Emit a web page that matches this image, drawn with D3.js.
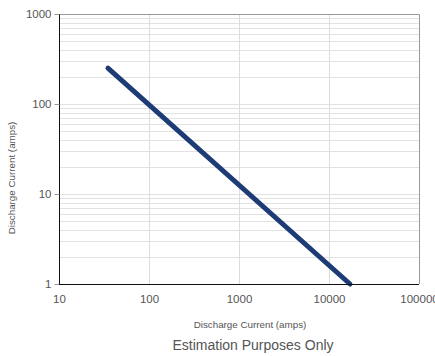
<!DOCTYPE html>
<html lang="en">
<head>
  <meta charset="UTF-8">
  <title>Discharge</title>
  <style>
    body { margin: 0; background: #fff; }
    text { font-family: 'Liberation Sans', Arial, sans-serif; fill: #555; }
  </style>
</head>
<body>
  <svg id="svg" width="435" height="356"></svg>
  <script src="https://d3js.org/d3.v7.min.js"></script>
  <script>
    // line end points
    const currentX = [35, 17100]
    const currentY = [250, 1]
    const xTicks = [10, 100, 1000, 10000, 100000]
    const yTicks = [1, 10, 100, 1000]
    const xTitle = 'Discharge Current (amps)'
    const yTitle = 'Discharge Current (amps)'
    const note = 'Estimation Purposes Only'

    const mLeft = 59, mRight = 419, mTop = 14, mBottom = 284
    const svg = d3.select('#svg')

    const xScale = d3.scaleLog().domain([10, 100000]).range([mLeft, mRight])
    const yScale = d3.scaleLog().domain([1, 1000]).range([mBottom, mTop])

    // horizontal minor grid
    const minor = []
    for (let d = 1; d < 1000; d *= 10) {
      for (let k = 2; k <= 9; k++) minor.push(d * k)
    }
    svg.append('g')
      .selectAll('line')
      .data(minor.concat([10, 100]))
      .enter()
      .append('line')
      .attr('x1', mLeft).attr('x2', mRight)
      .attr('y1', d => Math.round(yScale(d)) + 0.5)
      .attr('y2', d => Math.round(yScale(d)) + 0.5)
      .attr('stroke', '#e2e2e2')

    // vertical decade grid
    svg.append('g')
      .selectAll('line')
      .data([100, 1000, 10000])
      .enter()
      .append('line')
      .attr('x1', d => Math.round(xScale(d)) + 0.5)
      .attr('x2', d => Math.round(xScale(d)) + 0.5)
      .attr('y1', mTop).attr('y2', mBottom)
      .attr('stroke', '#dcdcdc')

    // top/right border
    svg.append('path')
      .attr('d', `M${mLeft},${mTop + 0.5}H${mRight + 0.5}V${mBottom}`)
      .attr('fill', 'none')
      .attr('stroke', '#999')

    const line = d3.line()
      .x(d => xScale(d[0]))
      .y(d => yScale(d[1]))
    svg.append('path')
      .datum(d3.zip(currentX, currentY))
      .attr('d', line)
      .attr('fill', 'none')
      .attr('stroke', '#1d3b74')
      .attr('stroke-width', 5)
      .attr('stroke-linecap', 'round')

    // axes
    const leftAxis = d3.axisLeft(yScale).tickValues(yTicks).tickFormat(d3.format('d')).tickSize(5).tickPadding(3)
    const ya = svg.append('g')
      .attr('transform', `translate(${mLeft + 0.5}, 0)`)
      .call(leftAxis)
    ya.select('.domain').attr('stroke', '#111').attr('d', `M0,${mTop}V${mBottom}`)
    ya.selectAll('.tick line').attr('stroke', '#999')
    ya.selectAll('.tick text').style('font-size', '11.5px').style('fill', '#555')

    const bottomAxis = d3.axisBottom(xScale).tickValues(xTicks).tickFormat(d3.format('d')).tickSize(0).tickPadding(10)
    const xa = svg.append('g')
      .attr('transform', `translate(0, ${mBottom + 0.5})`)
      .call(bottomAxis)
    xa.select('.domain').attr('stroke', '#111').attr('d', `M${mLeft},0H${mRight}`)
    xa.selectAll('.tick text').style('font-size', '11.5px').style('fill', '#555')

    svg.append('text')
      .attr('x', 250).attr('y', 328)
      .attr('text-anchor', 'middle')
      .style('font-size', '9.8px')
      .text(xTitle)

    svg.append('text')
      .attr('transform', 'translate(15, 178) rotate(-90)')
      .attr('text-anchor', 'middle')
      .style('font-size', '9.8px')
      .text(yTitle)

    svg.append('text')
      .attr('x', 253).attr('y', 350)
      .attr('text-anchor', 'middle')
      .style('font-size', '14px')
      .text(note)
  </script>
</body>
</html>
